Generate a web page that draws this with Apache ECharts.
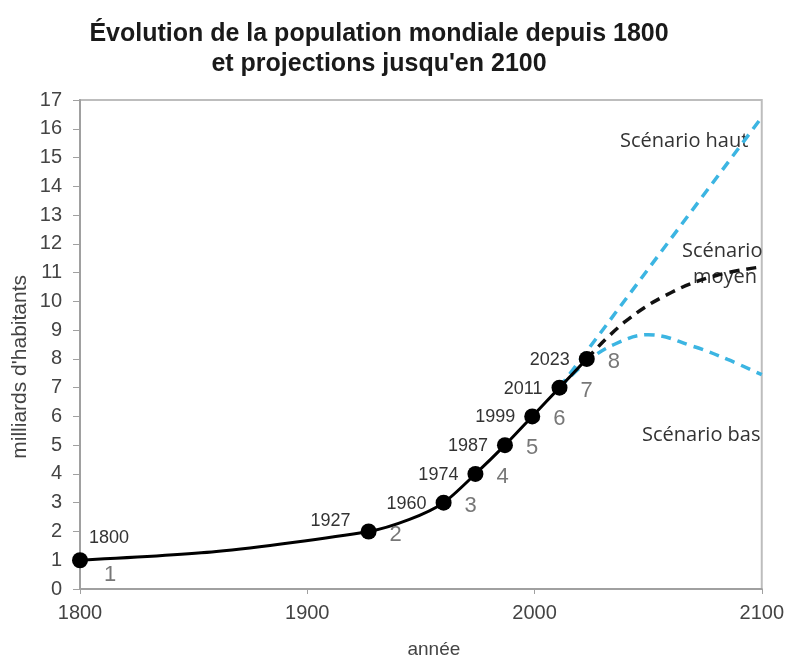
<!DOCTYPE html>
<html>
<head>
<meta charset="utf-8">
<script src="https://cdn.jsdelivr.net/npm/echarts@6/dist/echarts.min.js"></script>
<style>
  html, body { margin: 0; padding: 0; background: #fff; }
  #chart { width: 787px; height: 664px; }
</style>
</head>
<body>
<div id="chart"></div>
<script>
// courbe historique (milliards d'habitants)
const histYears = [1800, 1860, 1927, 1945, 1960, 1974, 1987, 1999, 2011, 2023];
const histPop = [1, 1.3, 2, 2.42, 3, 4, 5, 6, 7, 8];
// jalons numérotés 1 à 8
const markYears = [1800, 1927, 1960, 1974, 1987, 1999, 2011, 2023];
const markPop = [1, 2, 3, 4, 5, 6, 7, 8];
// projections
const highYears = [2011, 2100];
const highPop = [7, 16.4];
const medYears = [2023, 2040, 2060, 2080, 2100];
const medPop = [8, 9.3, 10.3, 10.9, 11.2];
const lowYears = [2011, 2023, 2035, 2050, 2070, 2085, 2100];
const lowPop = [7, 7.9, 8.5, 8.84, 8.43, 7.98, 7.45];
// axes
const xTicks = [1800, 1900, 2000, 2100];
const yMin = 0, yMax = 17;

const pairs = (xs, ys) => xs.map((x, i) => [x, ys[i]]);
const blue = '#3cb5e2';
const font = 'Liberation Sans, Arial, sans-serif';
const noteFont = 'Open Sans, sans-serif';

// position des étiquettes d'année
function yearLabel(i) {
  if (i === 0) return { position: 'right', distance: 5, offset: [-4, -22] };
  if (i === 1) return { position: 'left', distance: 10, offset: [0, -10] };
  return { position: 'left', distance: 9, offset: [0, 1] };
}
function rankLabel(i) {
  if (i === 0) return { position: 'right', distance: 16, offset: [0, 15] };
  return { position: 'right', distance: 13, offset: [0, 3] };
}

let chart = echarts.init(document.getElementById('chart'));
let option = {
  animation: false,
  title: {
    text: 'Évolution de la population mondiale depuis 1800\net projections jusqu\'en 2100',
    left: 374,
    top: 14,
    textAlign: 'center',
    textStyle: { fontFamily: font, fontSize: 25, fontWeight: 'bold', color: '#1a1a1a', lineHeight: 30 }
  },
  grid: {
    left: 80, right: 23, top: 100, bottom: 68,
    show: true, borderColor: '#bdbdbd', borderWidth: 2
  },
  xAxis: {
    type: 'value',
    min: 1800, max: 2100, interval: 100,
    name: 'année',
    nameLocation: 'middle',
    nameGap: 51,
    nameTextStyle: { fontFamily: font, fontSize: 19, color: '#444', padding: [0, 0, 0, 26] },
    axisLine: { show: true, lineStyle: { color: '#a0a0a0', width: 2 } },
    axisTick: { show: true, length: 5, lineStyle: { color: '#a0a0a0' } },
    axisLabel: {
      fontFamily: font, fontSize: 20, color: '#444', margin: 14,
      formatter: v => xTicks.includes(v) ? String(v) : ''
    },
    splitLine: { show: false }
  },
  yAxis: {
    type: 'value',
    min: yMin, max: yMax, interval: 1,
    axisLine: { show: true, lineStyle: { color: '#a0a0a0', width: 2 } },
    axisTick: { show: true, length: 7, lineStyle: { color: '#a0a0a0' } },
    axisLabel: { fontFamily: font, fontSize: 20, color: '#444', margin: 18 },
    splitLine: { show: false }
  },
  graphic: [
    { type: 'text', left: 10, top: 275, rotation: Math.PI / 2, z: 0,
      style: { text: 'milliards d\'habitants', font: '21px ' + font, fill: '#444' } },
    { type: 'text', left: 620, top: 131, z: 0,
      style: { text: 'Scénario haut', font: '20px ' + noteFont, fill: '#333' } },
    { type: 'text', left: 682, top: 241, z: 0,
      style: { text: 'Scénario', font: '20px ' + noteFont, fill: '#333' } },
    { type: 'text', left: 693, top: 267, z: 0,
      style: { text: 'moyen', font: '20px ' + noteFont, fill: '#333' } },
    { type: 'text', left: 642, top: 425, z: 0,
      style: { text: 'Scénario bas', font: '20px ' + noteFont, fill: '#333' } }
  ],
  series: [
    {
      name: 'haut', type: 'line', z: 3,
      data: pairs(highYears, highPop),
      showSymbol: false,
      lineStyle: { color: blue, width: 3.5, type: [10, 7] }
    },
    {
      name: 'bas', type: 'line', z: 3,
      data: pairs(lowYears, lowPop),
      smooth: 0.4,
      showSymbol: false,
      lineStyle: { color: blue, width: 3.5, type: [10, 7] }
    },
    {
      name: 'moyen', type: 'line', z: 4,
      data: pairs(medYears, medPop),
      smooth: 0.4,
      showSymbol: false,
      lineStyle: { color: '#111', width: 3.5, type: [10, 7] }
    },
    {
      name: 'historique', type: 'line', z: 5,
      data: pairs(histYears, histPop),
      smooth: 0.25,
      showSymbol: false,
      lineStyle: { color: '#000', width: 3 }
    },
    {
      name: 'jalons', type: 'scatter', z: 6,
      symbolSize: 16,
      itemStyle: { color: '#000', opacity: 1 },
      data: markYears.map((y, i) => ({
        value: [y, markPop[i]],
        label: Object.assign({
          show: true,
          formatter: String(y),
          fontFamily: font, fontSize: 18, color: '#333'
        }, yearLabel(i))
      }))
    },
    {
      name: 'rangs', type: 'scatter', z: 6,
      symbolSize: 16,
      itemStyle: { color: 'rgba(0,0,0,0)' },
      data: markYears.map((y, i) => ({
        value: [y, markPop[i]],
        label: Object.assign({
          show: true,
          formatter: String(i + 1),
          fontFamily: font, fontSize: 22, color: '#555'
        }, rankLabel(i))
      }))
    }
  ]
};
chart.setOption(option);
</script>
</body>
</html>
